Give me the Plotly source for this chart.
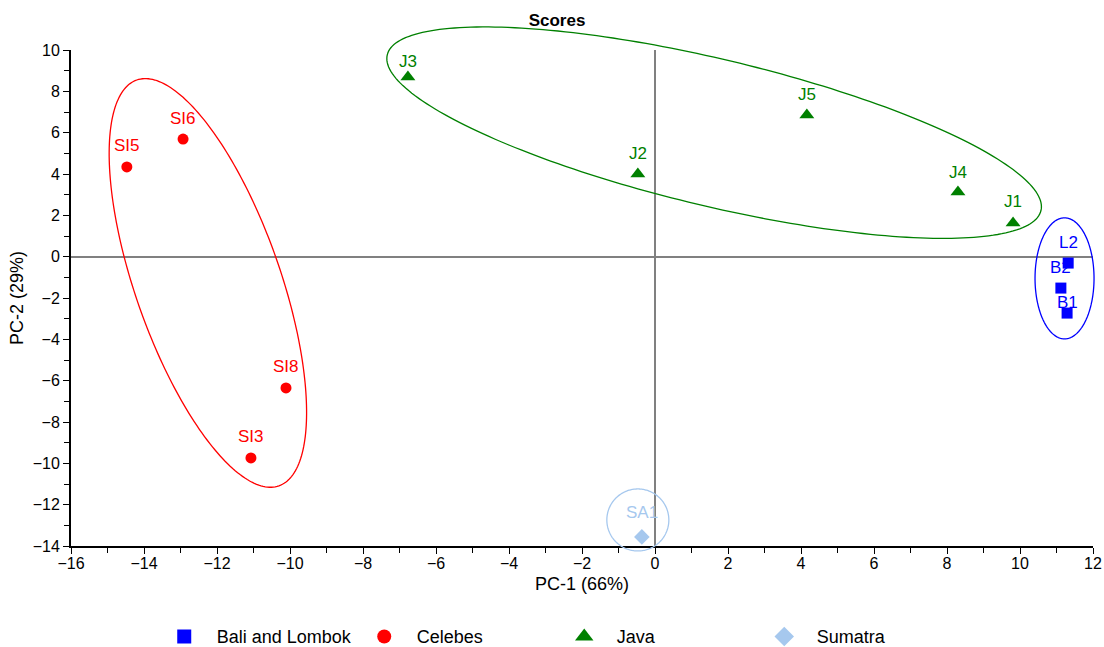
import numpy as np
import plotly.graph_objects as go

# ---------------- data ----------------
bali_labels = ["L2", "B2", "B1"]
bali_x = [11.32, 11.12, 11.29]
bali_y = [-0.31, -1.52, -2.73]

celebes_labels = ["SI5", "SI6", "SI8", "SI3"]
celebes_x = [-14.47, -12.93, -10.11, -11.07]
celebes_y = [4.34, 5.69, -6.35, -9.74]

java_labels = ["J3", "J2", "J5", "J4", "J1"]
java_x = [-6.77, -0.47, 4.16, 8.30, 9.81]
java_y = [8.69, 4.00, 6.86, 3.13, 1.63]

sumatra_labels = ["SA1"]
sumatra_x = [-0.36]
sumatra_y = [-13.56]

x_ticks = list(range(-16, 13, 2))
y_ticks = list(range(-14, 11, 2))

# ---------------- style ----------------
FONT = "Liberation Sans, Arial, sans-serif"
W, H = 1104, 647
ML, MR, MT, MB = 71, 11, 50, 101
XR = (-16, 12)
YR = (-14, 10)
XS = (W - ML - MR) / (XR[1] - XR[0])   # px per x unit
YS = (H - MT - MB) / (YR[1] - YR[0])   # px per y unit

C_BALI = "#0000FF"
C_CEL = "#FF0000"
C_JAVA = "#008000"
C_SUM = "#A6C8EE"

# ellipse outlines (center in data units, semi-axes in px, tilt in screen degrees)
ellipses = [
    dict(cx=-12.25, cy=-1.27, a=215, b=72.6, th=70.7, color=C_CEL),
    dict(cx=1.62, cy=6.0, a=336, b=73.5, th=13.4, color=C_JAVA),
    dict(cx=11.22, cy=-1.05, a=60.5, b=29.5, th=90.0, color=C_BALI),
    dict(cx=-0.47, cy=-12.74, a=31, b=31, th=0.0, color=C_SUM),
]


def ellipse_path(cx, cy, a, b, th):
    t = np.linspace(0, 2 * np.pi, 241)
    r = np.deg2rad(th)
    dx = a * np.cos(t) * np.cos(r) - b * np.sin(t) * np.sin(r)
    dy = a * np.cos(t) * np.sin(r) + b * np.sin(t) * np.cos(r)
    xd = cx + dx / XS
    yd = cy - dy / YS
    xp = (xd - XR[0]) / (XR[1] - XR[0])
    yp = (yd - YR[0]) / (YR[1] - YR[0])
    pts = [f"{u:.5f},{v:.5f}" for u, v in zip(xp, yp)]
    return "M" + " L".join(pts) + " Z"


fig = go.Figure()

for e in ellipses:
    fig.add_shape(type="path", xref="paper", yref="paper",
                  path=ellipse_path(e["cx"], e["cy"], e["a"], e["b"], e["th"]),
                  line=dict(color=e["color"], width=1.3), layer="above")

groups = [
    ("Bali and Lombok", bali_x, bali_y, bali_labels, C_BALI, "square", 11),
    ("Celebes", celebes_x, celebes_y, celebes_labels, C_CEL, "circle", 11),
    ("Java", java_x, java_y, java_labels, C_JAVA, "triangle-up", 13),
    ("Sumatra", sumatra_x, sumatra_y, sumatra_labels, C_SUM, "diamond", 12),
]

label_shift = {"B1": 11, "J3": 16, "SA1": 24, "J4": 19, "J5": 20}

for name, xs, ys, labs, col, sym, sz in groups:
    fig.add_trace(go.Scatter(x=xs, y=ys, mode="markers", name=name,
                             text=labs, cliponaxis=False, showlegend=False,
                             legendgroup=name,
                             marker=dict(color=col, symbol=sym, size=sz,
                                         line=dict(width=0))))
    # legend entry with the larger legend symbol
    fig.add_trace(go.Scatter(x=[None], y=[None], mode="markers", name=name,
                             legendgroup=name,
                             marker=dict(color=col, symbol=sym, size=sz + 3,
                                         line=dict(width=0))))
    for xv, yv, lab in zip(xs, ys, labs):
        fig.add_annotation(x=xv, y=yv, text=lab, showarrow=False,
                           yshift=label_shift.get(lab, 21),
                           font=dict(family=FONT, size=17, color=col))

axis_common = dict(
    showgrid=False, showline=True, linecolor="black", linewidth=2,
    ticks="outside", ticklen=6, tickwidth=1, tickcolor="black",
    zeroline=True, zerolinecolor="#808080", zerolinewidth=1.5,
    tickfont=dict(family=FONT, size=16, color="black"),
    minor=dict(ticks="outside", ticklen=5, tickwidth=1, tickcolor="black", dtick=1),
    automargin=False,
)

fig.update_layout(
    width=W, height=H,
    margin=dict(l=ML, r=MR, t=MT, b=MB, autoexpand=False),
    paper_bgcolor="white", plot_bgcolor="white",
    font=dict(family=FONT, size=16, color="black"),
    title=dict(text="<b>Scores</b>", x=557 / W, xref="container", xanchor="center",
               y=1 - 20 / H, yref="container", yanchor="middle",
               font=dict(family=FONT, size=17, color="black")),
    xaxis=dict(range=list(XR), tickmode="array", tickvals=x_ticks,
               ticklabelstandoff=-4,
               title=dict(text="PC-1 (66%)", font=dict(family=FONT, size=18), standoff=6),
               **axis_common),
    yaxis=dict(range=list(YR), tickmode="array", tickvals=y_ticks,
               title=dict(text="PC-2 (29%)", font=dict(family=FONT, size=18), standoff=4),
               **axis_common),
    legend=dict(orientation="h", x=0.079, xanchor="left", y=-0.183, yanchor="middle",
                font=dict(family=FONT, size=18, color="black"),
                entrywidth=130, entrywidthmode="pixels", itemwidth=55,
                bgcolor="rgba(0,0,0,0)"),
    showlegend=True,
)

fig.write_html(
    "out.html",
    config={"displayModeBar": False},
    post_script="document.body.style.margin='0';document.body.style.overflow='hidden';",
)
